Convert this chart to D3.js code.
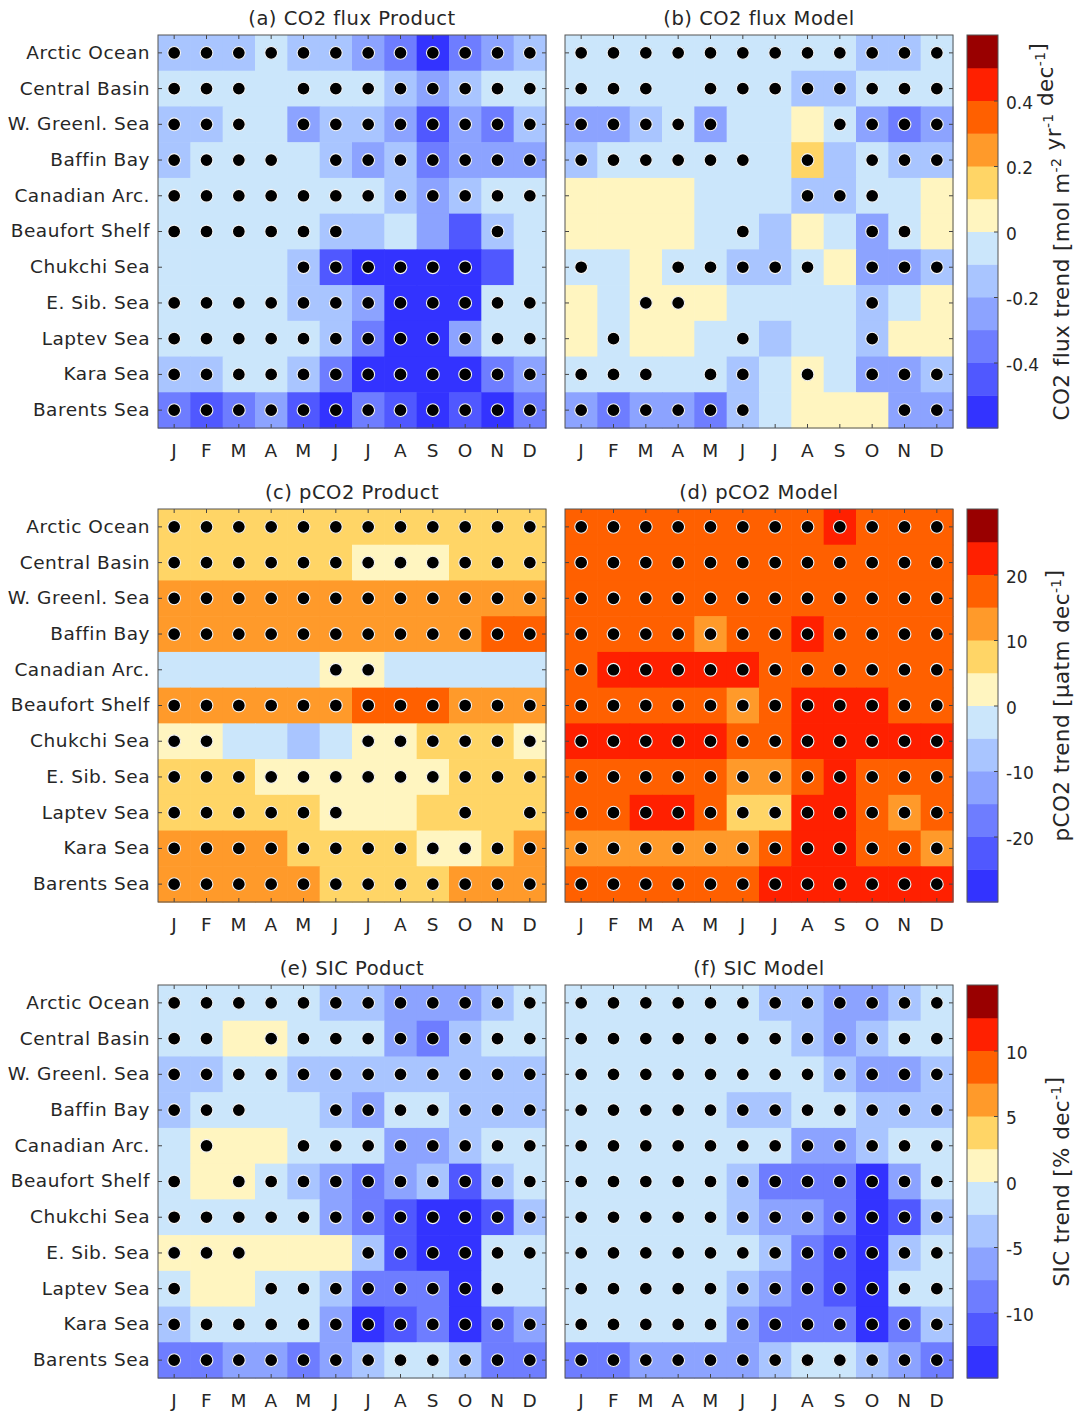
<!DOCTYPE html>
<html>
<head>
<meta charset="utf-8">
<script src="https://cdn.jsdelivr.net/npm/d3@7"></script>
<style>
  body { margin: 0; background: #fff; }
  text { font-family: "DejaVu Sans", sans-serif; fill: #262626; }
</style>
</head>
<body>
<svg id="chart" width="1078" height="1414"></svg>
<script>
// Row and column labels
const regions = ["Arctic Ocean", "Central Basin", "W. Greenl. Sea", "Baffin Bay", "Canadian Arc.",
    "Beaufort Shelf", "Chukchi Sea", "E. Sib. Sea", "Laptev Sea", "Kara Sea", "Barents Sea"];
const months = ["J", "F", "M", "A", "M", "J", "J", "A", "S", "O", "N", "D"];

// 12-step diverging palette, lowest bin first
const palette = ["#3333ff", "#5058ff", "#6e7dff", "#8ca3ff", "#a9c5ff", "#cbe6fb",
    "#fff5c0", "#ffd566", "#ff9a2a", "#ff6000", "#ff2000", "#990000"];

// (a) CO2 flux trend, product [mol m-2 yr-1 dec-1]
const co2Product = [
    [-0.15, -0.15, -0.15, -0.05, -0.15, -0.15, -0.25, -0.35, -0.55, -0.35, -0.25, -0.15],
    [-0.05, -0.05, -0.05, -0.05, -0.05, -0.05, -0.05, -0.15, -0.25, -0.15, -0.05, -0.05],
    [-0.15, -0.15, -0.05, -0.05, -0.25, -0.15, -0.15, -0.25, -0.45, -0.25, -0.35, -0.15],
    [-0.15, -0.05, -0.05, -0.05, -0.05, -0.15, -0.25, -0.15, -0.35, -0.25, -0.25, -0.25],
    [-0.05, -0.05, -0.05, -0.05, -0.05, -0.05, -0.05, -0.15, -0.25, -0.15, -0.05, -0.05],
    [-0.05, -0.05, -0.05, -0.05, -0.05, -0.15, -0.15, -0.05, -0.25, -0.45, -0.15, -0.05],
    [-0.05, -0.05, -0.05, -0.05, -0.15, -0.45, -0.55, -0.55, -0.55, -0.55, -0.45, -0.05],
    [-0.05, -0.05, -0.05, -0.05, -0.15, -0.15, -0.25, -0.55, -0.55, -0.55, -0.05, -0.05],
    [-0.05, -0.05, -0.05, -0.05, -0.05, -0.15, -0.35, -0.55, -0.55, -0.25, -0.05, -0.05],
    [-0.15, -0.15, -0.05, -0.05, -0.15, -0.35, -0.55, -0.55, -0.55, -0.55, -0.35, -0.25],
    [-0.35, -0.45, -0.35, -0.25, -0.45, -0.55, -0.35, -0.45, -0.55, -0.45, -0.55, -0.35]
];
const co2ProductSig = ["111111111111", "111011111111", "111011111111", "111101111111", "111111111111",
    "111111000010", "000011111100", "111111111111", "111111111111", "111111111111", "111111111111"];

// (b) CO2 flux trend, model
const co2Model = [
    [-0.05, -0.05, -0.05, -0.05, -0.05, -0.05, -0.05, -0.05, -0.05, -0.15, -0.15, -0.05],
    [-0.05, -0.05, -0.05, -0.05, -0.05, -0.05, -0.05, -0.15, -0.15, -0.05, -0.05, -0.05],
    [-0.25, -0.25, -0.15, -0.05, -0.25, -0.05, -0.05, 0.05, -0.05, -0.25, -0.35, -0.25],
    [-0.15, -0.05, -0.05, -0.05, -0.05, -0.05, -0.05, 0.15, -0.15, -0.05, -0.15, -0.15],
    [0.05, 0.05, 0.05, 0.05, -0.05, -0.05, -0.05, -0.15, -0.15, -0.05, -0.05, 0.05],
    [0.05, 0.05, 0.05, 0.05, -0.05, -0.05, -0.15, 0.05, -0.05, -0.25, -0.05, 0.05],
    [-0.05, -0.05, 0.05, -0.05, -0.05, -0.15, -0.15, -0.05, 0.05, -0.25, -0.25, -0.15],
    [0.05, -0.05, 0.05, 0.05, 0.05, -0.05, -0.05, -0.05, -0.05, -0.15, -0.05, 0.05],
    [0.05, -0.05, 0.05, 0.05, -0.05, -0.05, -0.15, -0.05, -0.05, -0.15, 0.05, 0.05],
    [-0.05, -0.05, -0.05, -0.05, -0.05, -0.15, -0.05, 0.05, -0.05, -0.25, -0.25, -0.15],
    [-0.25, -0.35, -0.25, -0.25, -0.35, -0.15, -0.05, 0.05, 0.05, 0.05, -0.25, -0.25]
];
const co2ModelSig = ["111111111111", "111011111111", "111110001111", "111111010111", "000000011100",
    "000001000110", "100111110111", "001100000100", "010001000100", "111011010111", "111111000011"];

// (c) pCO2 trend, product [uatm dec-1]
const pco2Product = [
    [7.5, 7.5, 7.5, 7.5, 7.5, 7.5, 7.5, 7.5, 7.5, 7.5, 7.5, 7.5],
    [7.5, 7.5, 7.5, 7.5, 7.5, 7.5, 2.5, 2.5, 2.5, 7.5, 7.5, 7.5],
    [12.5, 12.5, 12.5, 12.5, 12.5, 12.5, 12.5, 12.5, 12.5, 12.5, 12.5, 12.5],
    [12.5, 12.5, 12.5, 12.5, 12.5, 12.5, 12.5, 12.5, 12.5, 12.5, 17.5, 17.5],
    [-2.5, -2.5, -2.5, -2.5, -2.5, 2.5, 2.5, -2.5, -2.5, -2.5, -2.5, -2.5],
    [12.5, 12.5, 12.5, 12.5, 12.5, 12.5, 17.5, 17.5, 17.5, 12.5, 12.5, 12.5],
    [2.5, 2.5, -2.5, -2.5, -7.5, -2.5, 2.5, 2.5, 7.5, 7.5, 7.5, 2.5],
    [7.5, 7.5, 7.5, 2.5, 2.5, 2.5, 2.5, 2.5, 2.5, 7.5, 7.5, 7.5],
    [7.5, 7.5, 7.5, 7.5, 7.5, 2.5, 2.5, 2.5, 7.5, 7.5, 7.5, 7.5],
    [12.5, 12.5, 12.5, 12.5, 7.5, 7.5, 7.5, 7.5, 2.5, 2.5, 7.5, 12.5],
    [12.5, 12.5, 12.5, 12.5, 12.5, 7.5, 7.5, 7.5, 7.5, 12.5, 12.5, 12.5]
];
const pco2ProductSig = ["111111111111", "111111111111", "111111111111", "111111111111", "000001100000",
    "111111111111", "110000111111", "111111111111", "111111000101", "111111111111", "111111111111"];

// (d) pCO2 trend, model
const pco2Model = [
    [17.5, 17.5, 17.5, 17.5, 17.5, 17.5, 17.5, 17.5, 22.5, 17.5, 17.5, 17.5],
    [17.5, 17.5, 17.5, 17.5, 17.5, 17.5, 17.5, 17.5, 17.5, 17.5, 17.5, 17.5],
    [17.5, 17.5, 17.5, 17.5, 17.5, 17.5, 17.5, 17.5, 17.5, 17.5, 17.5, 17.5],
    [17.5, 17.5, 17.5, 17.5, 12.5, 17.5, 17.5, 22.5, 17.5, 17.5, 17.5, 17.5],
    [17.5, 22.5, 22.5, 22.5, 22.5, 22.5, 17.5, 17.5, 17.5, 17.5, 17.5, 17.5],
    [17.5, 17.5, 17.5, 17.5, 17.5, 12.5, 17.5, 22.5, 22.5, 22.5, 17.5, 17.5],
    [22.5, 22.5, 22.5, 22.5, 22.5, 17.5, 17.5, 22.5, 22.5, 22.5, 22.5, 22.5],
    [17.5, 17.5, 17.5, 17.5, 17.5, 12.5, 12.5, 17.5, 22.5, 17.5, 17.5, 17.5],
    [17.5, 17.5, 22.5, 22.5, 17.5, 7.5, 7.5, 22.5, 22.5, 17.5, 12.5, 17.5],
    [12.5, 12.5, 12.5, 12.5, 12.5, 12.5, 17.5, 22.5, 22.5, 17.5, 17.5, 12.5],
    [17.5, 17.5, 17.5, 17.5, 17.5, 17.5, 22.5, 22.5, 22.5, 22.5, 22.5, 22.5]
];
const pco2ModelSig = ["111111111111", "111111111111", "111111111111", "111111111111", "111111111111",
    "111111111111", "111111111111", "111111111111", "111111111111", "111111111111", "111111111111"];

// (e) SIC trend, product [% dec-1]
const sicProduct = [
    [-1.3, -1.3, -1.3, -1.3, -1.3, -3.8, -3.8, -6.3, -6.3, -6.3, -3.8, -1.3],
    [-1.3, -1.3, 1.3, 1.3, -1.3, -1.3, -1.3, -6.3, -8.8, -3.8, -1.3, -1.3],
    [-3.8, -3.8, -1.3, -1.3, -3.8, -3.8, -3.8, -3.8, -3.8, -3.8, -3.8, -3.8],
    [-3.8, -1.3, -1.3, -1.3, -1.3, -3.8, -6.3, -1.3, -1.3, -3.8, -3.8, -3.8],
    [-1.3, 1.3, 1.3, 1.3, -1.3, -1.3, -1.3, -6.3, -6.3, -3.8, -1.3, -1.3],
    [-1.3, 1.3, 1.3, -1.3, -3.8, -6.3, -8.8, -6.3, -3.8, -11.3, -3.8, -1.3],
    [-1.3, -1.3, -1.3, -1.3, -1.3, -6.3, -8.8, -11.3, -13.8, -13.8, -11.3, -3.8],
    [1.3, 1.3, 1.3, 1.3, 1.3, 1.3, -3.8, -11.3, -13.8, -13.8, -1.3, -1.3],
    [-1.3, 1.3, 1.3, -1.3, -1.3, -3.8, -8.8, -8.8, -8.8, -13.8, -1.3, -1.3],
    [-3.8, -1.3, -1.3, -1.3, -1.3, -6.3, -13.8, -11.3, -8.8, -13.8, -8.8, -6.3],
    [-8.8, -8.8, -6.3, -6.3, -8.8, -6.3, -3.8, -1.3, -1.3, -3.8, -8.8, -8.8]
];
const sicProductSig = ["111111111111", "110111111111", "111111111111", "111001111111", "010011111111",
    "101111111111", "111111111111", "111000111111", "100111111110", "111111111111", "111111111111"];

// (f) SIC trend, model
const sicModel = [
    [-1.3, -1.3, -1.3, -1.3, -1.3, -1.3, -3.8, -3.8, -6.3, -6.3, -3.8, -1.3],
    [-1.3, -1.3, -1.3, -1.3, -1.3, -1.3, -1.3, -3.8, -6.3, -3.8, -1.3, -1.3],
    [-1.3, -1.3, -1.3, -1.3, -1.3, -1.3, -1.3, -1.3, -3.8, -6.3, -6.3, -3.8],
    [-1.3, -1.3, -1.3, -1.3, -1.3, -3.8, -3.8, -1.3, -1.3, -3.8, -3.8, -3.8],
    [-1.3, -1.3, -1.3, -1.3, -1.3, -1.3, -1.3, -6.3, -6.3, -3.8, -1.3, -1.3],
    [-1.3, -1.3, -1.3, -1.3, -1.3, -3.8, -8.8, -8.8, -8.8, -13.8, -6.3, -1.3],
    [-1.3, -1.3, -1.3, -1.3, -1.3, -3.8, -6.3, -6.3, -8.8, -13.8, -11.3, -3.8],
    [-1.3, -1.3, -1.3, -1.3, -1.3, -1.3, -3.8, -8.8, -11.3, -13.8, -3.8, -1.3],
    [-1.3, -1.3, -1.3, -1.3, -1.3, -3.8, -6.3, -8.8, -11.3, -13.8, -1.3, -1.3],
    [-1.3, -1.3, -1.3, -1.3, -1.3, -6.3, -8.8, -8.8, -8.8, -13.8, -8.8, -3.8],
    [-8.8, -8.8, -6.3, -6.3, -6.3, -6.3, -3.8, -1.3, -1.3, -3.8, -6.3, -8.8]
];
const sicModelSig = ["111111111111", "111111111111", "111111111111", "111111111111", "111111111111",
    "111111111111", "111111111111", "111111111111", "111111111111", "111111111111", "111111111111"];

// Colour bar ticks per row of panels
const co2Ticks = [-0.4, -0.2, 0, 0.2, 0.4];
const pco2Ticks = [-20, -10, 0, 10, 20];
const sicTicks = [-10, -5, 0, 5, 10];

// Layout
const colX = [158, 565];
const rowY = [35, 509, 985];
const W = 388, H = 393;
const cbX = 967, cbW = 31;

const svg = d3.select("#chart");

/**
 * Draws one month x region heat map with significance dots
 */
function drawPanel(px, py, vals, sig, color, title, showRows) {
    const g = svg.append("g").attr("transform", `translate(${px},${py})`);

    const x = d3.scaleBand().domain(d3.range(12)).range([0, W]);
    const y = d3.scaleBand().domain(d3.range(11)).range([0, H]);

    const cells = vals.flatMap((row, r) => row.map((v, c) => ({r, c, v, s: sig[r][c] === "1"})));

    g.selectAll("rect.cell").data(cells).enter().append("rect")
        .attr("class", "cell")
        .attr("x", d => x(d.c))
        .attr("y", d => y(d.r))
        .attr("width", x.bandwidth() + 0.6)
        .attr("height", y.bandwidth() + 0.6)
        .attr("fill", d => color(d.v));

    g.selectAll("circle").data(cells.filter(d => d.s)).enter().append("circle")
        .attr("cx", d => x(d.c) + x.bandwidth() / 2)
        .attr("cy", d => y(d.r) + y.bandwidth() / 2)
        .attr("r", 6.4)
        .attr("fill", "#000")
        .attr("stroke", "#f4f4f4")
        .attr("stroke-width", 1.1);

    // Inward ticks on all four sides
    const axes = [
        [d3.axisBottom(x).tickFormat(i => months[i]).tickPadding(16), `translate(0,${H})`],
        [d3.axisTop(x).tickFormat(""), null],
        [d3.axisLeft(y).tickFormat(i => showRows ? regions[i] : "").tickPadding(8), null],
        [d3.axisRight(y).tickFormat(""), `translate(${W},0)`]
    ];
    axes.forEach(([ax, tr]) => {
        const a = g.append("g").call(ax.tickSize(-4));
        if (tr) a.attr("transform", tr);
        a.select(".domain").remove();
        a.selectAll("line").attr("stroke", "#444");
        a.selectAll("text").style("font-size", "18.5px").style("letter-spacing", "0.5px").attr("fill", "#262626");
    });

    g.append("rect")
        .attr("width", W).attr("height", H)
        .attr("fill", "none").attr("stroke", "#555").attr("stroke-width", 1);

    g.append("text")
        .attr("x", W / 2).attr("y", -10)
        .attr("text-anchor", "middle")
        .style("font-size", "19.5px")
        .style("letter-spacing", "0.5px")
        .text(title);
}

/**
 * Draws a vertical colour bar with a rotated label (parts: [text, isSuperscript])
 */
function drawColorbar(py, lo, hi, ticks, labelParts) {
    const g = svg.append("g").attr("transform", `translate(${cbX},${py})`);
    const y = d3.scaleLinear().domain([lo, hi]).range([H, 0]);
    const step = (hi - lo) / palette.length;

    g.selectAll("rect").data(palette).enter().append("rect")
        .attr("x", 0)
        .attr("y", (d, i) => y(lo + (i + 1) * step))
        .attr("width", cbW)
        .attr("height", (d, i) => y(lo + i * step) - y(lo + (i + 1) * step) + 0.5)
        .attr("fill", d => d);

    const a = g.append("g").attr("transform", `translate(${cbW},0)`)
        .call(d3.axisRight(y).tickValues(ticks).tickSize(-4).tickPadding(8)
            .tickFormat(d => String(d)));
    a.select(".domain").remove();
    a.selectAll("line").attr("stroke", "#444");
    a.selectAll("text").style("font-size", "17px").attr("fill", "#262626").attr("dy", "0.45em");

    g.append("rect").attr("width", cbW).attr("height", H)
        .attr("fill", "none").attr("stroke", "#555");

    const t = g.append("text")
        .attr("transform", `translate(${1069 - cbX},${H / 2}) rotate(-90)`)
        .attr("text-anchor", "middle")
        .style("font-size", "21.5px")
        .style("letter-spacing", "0.4px");
    labelParts.forEach(([s, sup]) => {
        if (sup) {
            t.append("tspan").attr("dy", -8).style("font-size", "14px").text(s);
            t.append("tspan").attr("dy", 8).text("");
        } else {
            t.append("tspan").text(s);
        }
    });
}

const co2Color = d3.scaleQuantize().domain([-0.6, 0.6]).range(palette);
const pco2Color = d3.scaleQuantize().domain([-30, 30]).range(palette);
const sicColor = d3.scaleQuantize().domain([-15, 15]).range(palette);

drawPanel(colX[0], rowY[0], co2Product, co2ProductSig, co2Color, "(a) CO2 flux Product", true);
drawPanel(colX[1], rowY[0], co2Model, co2ModelSig, co2Color, "(b) CO2 flux Model", false);
drawPanel(colX[0], rowY[1], pco2Product, pco2ProductSig, pco2Color, "(c) pCO2 Product", true);
drawPanel(colX[1], rowY[1], pco2Model, pco2ModelSig, pco2Color, "(d) pCO2 Model", false);
drawPanel(colX[0], rowY[2], sicProduct, sicProductSig, sicColor, "(e) SIC Poduct", true);
drawPanel(colX[1], rowY[2], sicModel, sicModelSig, sicColor, "(f) SIC Model", false);

drawColorbar(rowY[0], -0.6, 0.6, co2Ticks,
    [["CO2 flux trend [mol m", false], ["-2", true], [" yr", false], ["-1", true], [" dec", false], ["-1", true], ["]", false]]);
drawColorbar(rowY[1], -30, 30, pco2Ticks,
    [["pCO2 trend [\u03bcatm dec", false], ["-1", true], ["]", false]]);
drawColorbar(rowY[2], -15, 15, sicTicks,
    [["SIC trend [% dec", false], ["-1", true], ["]", false]]);
</script>
</body>
</html>
